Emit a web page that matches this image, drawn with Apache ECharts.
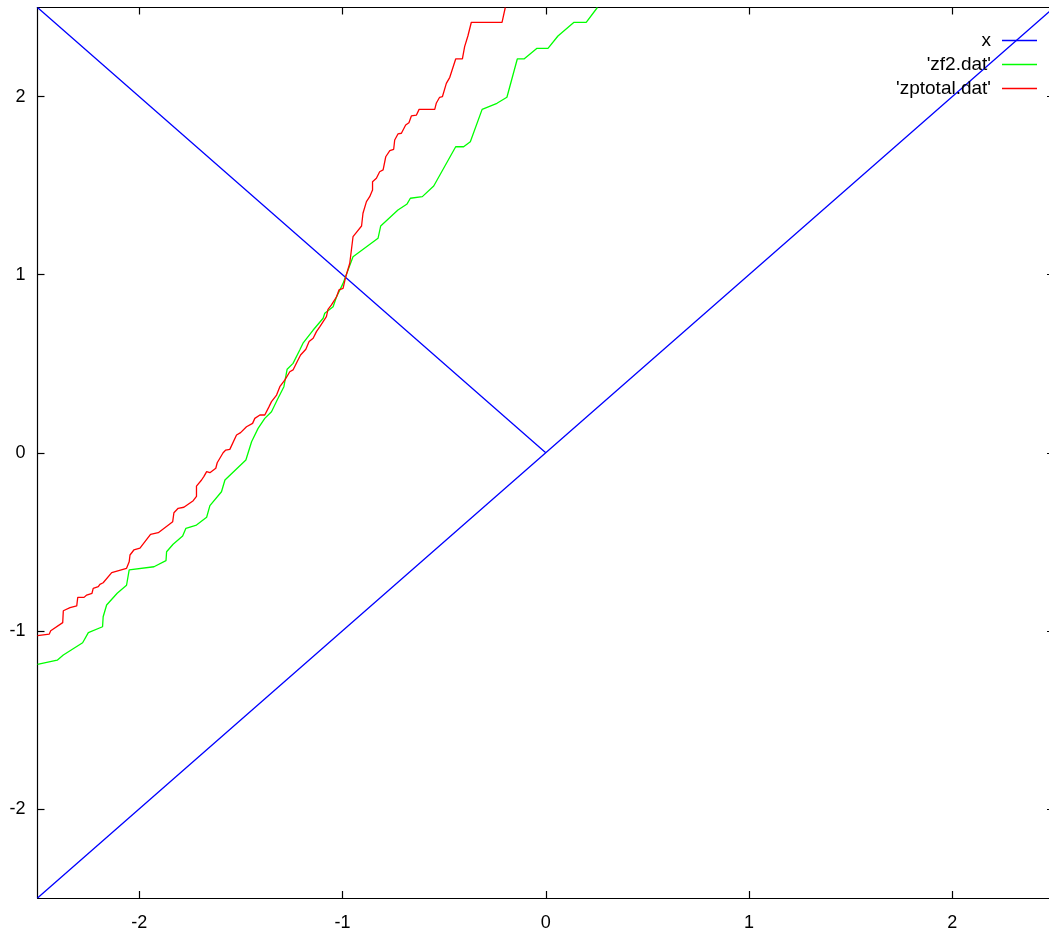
<!DOCTYPE html>
<html>
<head>
<meta charset="utf-8">
<script src="https://cdn.jsdelivr.net/npm/echarts@6/dist/echarts.min.js"></script>
<style>
  html, body { margin: 0; padding: 0; background: #fff; }
  #chart { width: 1049px; height: 937px; }
</style>
</head>
<body>
<div id="chart"></div>
<script>
// Axis range and tick positions (both axes share them)
const axisMin = -2.5;
const axisMax = 2.5;
const tickValues = [-2, -1, 0, 1, 2];

// Function "x": the diagonal y = x, plus the segment from the upper-left corner to the origin
const xLineX = [-2.5, 2.5, '-', -2.5, 0];
const xLineY = [-2.5, 2.5, '-', 2.5, 0];

// 'zf2.dat'
const zf2X = [
  -2.500, -2.403, -2.373, -2.278, -2.250, -2.180, -2.177, -2.160, -2.108, -2.062,
  -2.049, -1.927, -1.868, -1.865, -1.833, -1.786, -1.770, -1.718, -1.668, -1.652,
  -1.595, -1.578, -1.475, -1.447, -1.415, -1.382, -1.349, -1.321, -1.288, -1.282,
  -1.272, -1.243, -1.210, -1.194, -1.144, -1.095, -1.087, -1.046, -1.029, -0.997,
  -0.948, -0.825, -0.812, -0.727, -0.682, -0.666, -0.607, -0.551, -0.443, -0.404,
  -0.371, -0.313, -0.240, -0.191, -0.140, -0.107, -0.043, 0.011, 0.060, 0.139,
  0.199, 0.254
];
const zf2Y = [
  -1.188, -1.165, -1.136, -1.067, -1.010, -0.977, -0.921, -0.855, -0.789, -0.744,
  -0.658, -0.640, -0.606, -0.556, -0.514, -0.467, -0.424, -0.406, -0.362, -0.297,
  -0.219, -0.153, -0.041, 0.062, 0.137, 0.193, 0.230, 0.296, 0.371, 0.409,
  0.469, 0.502, 0.577, 0.615, 0.689, 0.755, 0.783, 0.820, 0.876, 0.951,
  1.101, 1.204, 1.273, 1.363, 1.397, 1.429, 1.438, 1.498, 1.718, 1.718,
  1.746, 1.928, 1.962, 1.996, 2.211, 2.211, 2.271, 2.271, 2.340, 2.417,
  2.417, 2.500
];

// 'zptotal.dat'
const zptotalX = [
  -2.500, -2.442, -2.435, -2.376, -2.373, -2.340, -2.307, -2.302, -2.271, -2.258,
  -2.232, -2.226, -2.201, -2.193, -2.177, -2.135, -2.062, -2.049, -2.045, -2.026,
  -1.996, -1.944, -1.906, -1.835, -1.829, -1.808, -1.780, -1.734, -1.718, -1.718,
  -1.693, -1.682, -1.668, -1.652, -1.623, -1.616, -1.587, -1.574, -1.554, -1.521,
  -1.501, -1.472, -1.442, -1.431, -1.406, -1.382, -1.361, -1.349, -1.324, -1.308,
  -1.283, -1.259, -1.243, -1.223, -1.206, -1.180, -1.164, -1.144, -1.128, -1.111,
  -1.079, -1.071, -1.054, -1.029, -1.017, -0.997, -0.984, -0.964, -0.948, -0.935,
  -0.906, -0.899, -0.882, -0.866, -0.852, -0.852, -0.833, -0.817, -0.800, -0.787,
  -0.767, -0.748, -0.743, -0.727, -0.710, -0.689, -0.673, -0.661, -0.636, -0.623,
  -0.546, -0.538, -0.522, -0.508, -0.489, -0.472, -0.443, -0.410, -0.399, -0.383,
  -0.374, -0.366, -0.215, -0.199
];
const zptotalY = [
  -1.027, -1.018, -0.999, -0.954, -0.887, -0.870, -0.860, -0.812, -0.812, -0.799,
  -0.789, -0.761, -0.752, -0.739, -0.730, -0.673, -0.649, -0.612, -0.574, -0.546,
  -0.536, -0.458, -0.449, -0.387, -0.337, -0.312, -0.306, -0.269, -0.245, -0.187,
  -0.153, -0.134, -0.106, -0.112, -0.087, -0.056, 0.000, 0.015, 0.019, 0.100,
  0.113, 0.146, 0.165, 0.193, 0.212, 0.212, 0.259, 0.287, 0.324, 0.371,
  0.409, 0.455, 0.465, 0.511, 0.549, 0.581, 0.624, 0.643, 0.680, 0.708,
  0.764, 0.805, 0.830, 0.876, 0.914, 0.923, 0.987, 1.064, 1.213, 1.232,
  1.273, 1.345, 1.410, 1.438, 1.475, 1.522, 1.541, 1.578, 1.588, 1.662,
  1.696, 1.704, 1.756, 1.790, 1.794, 1.840, 1.853, 1.891, 1.896, 1.928,
  1.928, 1.964, 1.996, 2.000, 2.074, 2.108, 2.211, 2.211, 2.280, 2.340,
  2.350, 2.417, 2.417, 2.500
];

const seriesNames = ['x', "'zf2.dat'", "'zptotal.dat'"];
const seriesColors = ['#0000ff', '#00ff00', '#ff0000'];

const pairs = (xs, ys) => xs.map((v, i) => [v, ys[i]]);

const FONT = '"Liberation Sans", Arial, Helvetica, sans-serif';

function makeXAxis(position, showLabels) {
  return {
    type: 'value', min: axisMin, max: axisMax, position: position,
    axisLine: { show: true, onZero: false, lineStyle: { color: '#000', width: 1.2 } },
    axisTick: { show: true, inside: true, length: 7, customValues: tickValues,
                lineStyle: { color: '#000', width: 1.2 } },
    axisLabel: { show: showLabels, customValues: tickValues, margin: 16,
                 fontSize: 18, color: '#000', fontFamily: FONT },
    splitLine: { show: false }
  };
}
function makeYAxis(position, showLabels) {
  return {
    type: 'value', min: axisMin, max: axisMax, position: position,
    axisLine: { show: true, onZero: false, lineStyle: { color: '#000', width: 1.2 } },
    axisTick: { show: true, inside: true, length: 7, customValues: tickValues,
                lineStyle: { color: '#000', width: 1.2 } },
    axisLabel: { show: showLabels, customValues: tickValues, margin: 12,
                 fontSize: 18, color: '#000', fontFamily: FONT },
    splitLine: { show: false }
  };
}

// One legend block per entry so every row is right-aligned: text, then a line sample
function makeLegend(name, top) {
  return {
    data: [name], right: 12, top: top, orient: 'horizontal', align: 'right',
    padding: 0, icon: 'rect', itemWidth: 35, itemHeight: 1.3, selectedMode: false,
    textStyle: { fontSize: 19, color: '#000', fontFamily: FONT, padding: [3, 6, 0, 0] }
  };
}

const chart = echarts.init(document.getElementById('chart'), null, { renderer: 'canvas' });
chart.setOption({
  animation: false,
  backgroundColor: '#fff',
  grid: { left: 37.5, top: 7.5, width: 1016.5, height: 890.5,
          containLabel: false, outerBoundsMode: 'none' },
  legend: [
    makeLegend(seriesNames[0], 31),
    makeLegend(seriesNames[1], 55),
    makeLegend(seriesNames[2], 79)
  ],
  xAxis: [makeXAxis('bottom', true), makeXAxis('top', false)],
  yAxis: [makeYAxis('left', true), makeYAxis('right', false)],
  series: [
    { name: seriesNames[0], data: pairs(xLineX, xLineY) },
    { name: seriesNames[1], data: pairs(zf2X, zf2Y) },
    { name: seriesNames[2], data: pairs(zptotalX, zptotalY) }
  ].map((s, i) => Object.assign(s, {
    type: 'line', xAxisIndex: 0, yAxisIndex: 0, symbol: 'none', showSymbol: false,
    connectNulls: false, clip: true,
    lineStyle: { color: seriesColors[i], width: 1.3 },
    itemStyle: { color: seriesColors[i] }
  }))
});
</script>
</body>
</html>
